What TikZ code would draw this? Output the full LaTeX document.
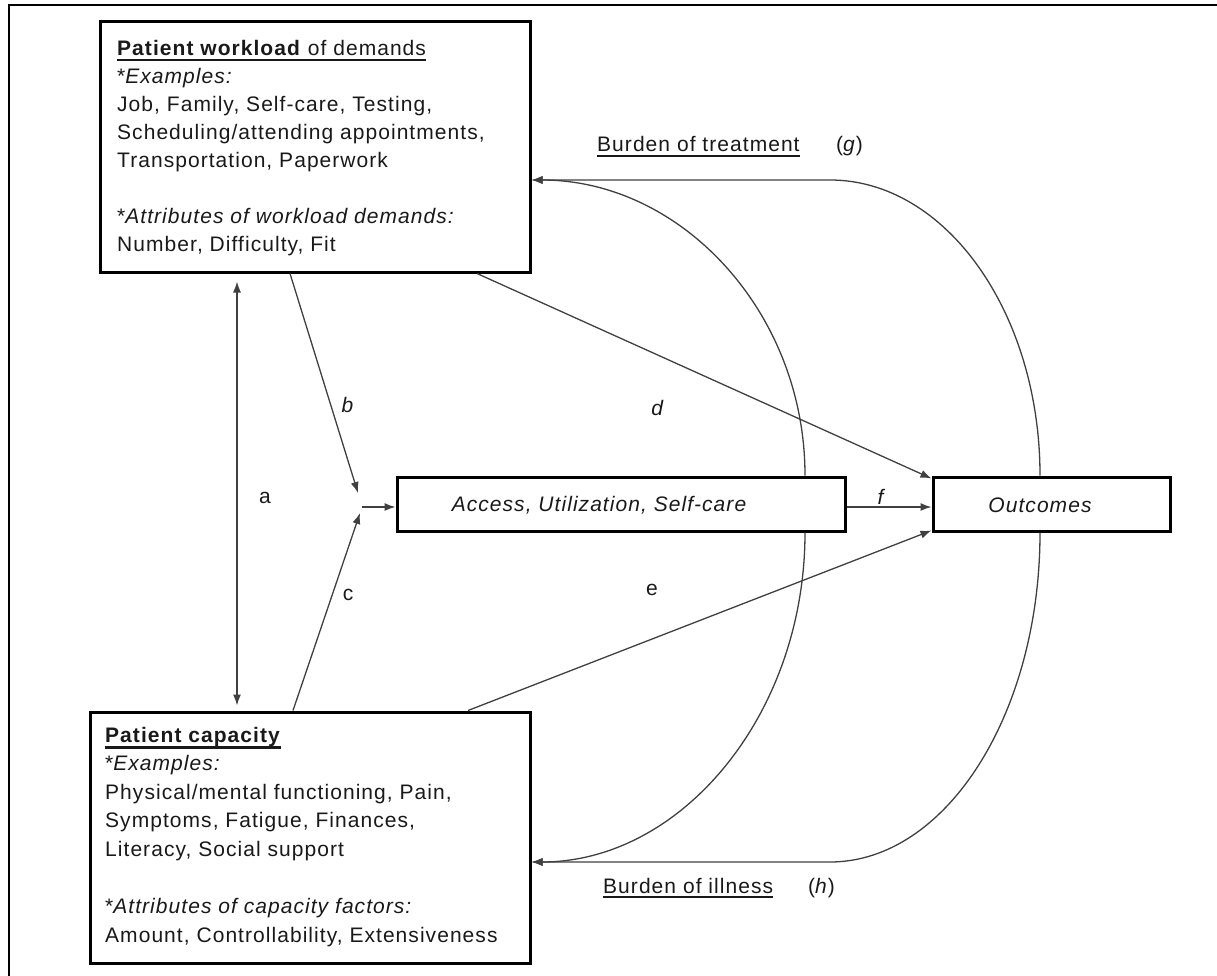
\documentclass[tikz,border=0pt]{standalone}
\usepackage{fontspec}
\setmainfont{Liberation Sans}[LetterSpace=5]
\usetikzlibrary{arrows.meta}
\newsavebox\ulbox
\newcommand{\thkul}[3]{\leavevmode\sbox\ulbox{#3}\rlap{\raisebox{-#1}{\rule{\wd\ulbox}{#2}}}\usebox\ulbox}
\tikzset{
  boxst/.style={draw=black, line width=3pt, inner sep=0pt},
  arr/.style={draw=black!75, line width=1.3pt, -{Latex[length=11pt,width=8pt]}},
  dblarr/.style={draw=black!75, line width=1.3pt, {Latex[length=11pt,width=8pt]}-{Latex[length=11pt,width=8pt]}},
  lbl/.style={inner sep=0pt, text=black!90, font=\fontsize{21}{28}\selectfont},
}
\begin{document}
\begin{tikzpicture}[x=1pt,y=-1pt]
\useasboundingbox (0,0) rectangle (1217,976);
% outer frame (top and left edges only)
\draw[line width=2pt] (9,976) -- (9,5) -- (1217,5);

% boxes
\node[boxst, minimum width=430, minimum height=250] (wl) at (315,147) {};
\node[boxst, minimum width=440, minimum height=251] (cap) at (310,837.5) {};
\node[boxst, minimum width=448, minimum height=54] (acc) at (621,504) {};
\node[boxst, minimum width=237, minimum height=54] (outc) at (1051.5,504) {};

% box texts
\node[lbl, anchor=base west] (wltxt) at (117,56) {\vtop{\baselineskip=28pt
  \hbox{\thkul{5.5pt}{2.6pt}{\textbf{Patient workload} of demands}}
  \hbox{*\textit{Examples:}}
  \hbox{Job, Family, Self-care, Testing,}
  \hbox{Scheduling/attending appointments,}
  \hbox{Transportation, Paperwork}
  \hbox{}
  \hbox{*\textit{Attributes of workload demands:}}
  \hbox{Number, Difficulty, Fit}}};
\node[lbl, anchor=base west] (captxt) at (105,742) {\vtop{\baselineskip=28.6pt
  \hbox{\thkul{7pt}{2.6pt}{\textbf{Patient capacity}}}
  \hbox{*\textit{Examples:}}
  \hbox{Physical/mental functioning, Pain,}
  \hbox{Symptoms, Fatigue, Finances,}
  \hbox{Literacy, Social support}
  \hbox{}
  \hbox{*\textit{Attributes of capacity factors:}}
  \hbox{Amount, Controllability, Extensiveness}}};
\node[lbl, font=\fontsize{21}{28}\selectfont\itshape] (acctxt) at (599,505) {Access, Utilization, Self-care};
\node[lbl, font=\fontsize{21}{28}\selectfont\itshape] (outtxt) at (1040,505) {Outcomes};

% junction
\coordinate (jb) at (358,493);
\coordinate (jc) at (360,513);
\coordinate (j) at (362,507);

% connectors
\draw[dblarr, shorten <=8pt, shorten >=5pt] ([xshift=-78pt]wl.south) -- ([xshift=-73pt]cap.north);
\draw[arr] ([xshift=-25pt]wl.south) -- (jb);
\draw[arr] ([xshift=-17pt]cap.north) -- (jc);
\draw[arr] (j) -- (acc.west |- j);
\draw[arr] ([xshift=162pt]wl.south) -- ([yshift=-3pt]outc.north west);
\draw[arr] ([xshift=158pt]cap.north) -- ([yshift=2pt]outc.south west);
\draw[arr] (acc.east |- j) -- (outc.west |- j);

% burden of treatment (g)
\draw[arr] ([xshift=-11.5pt]outc.north) .. controls (1040,313) and (946,180) .. (830,180) -- ([yshift=-33pt]wl.east);
\draw[arr] ([xshift=184pt]acc.north) .. controls (805,313) and (682,180) .. ([yshift=-33pt]wl.east);
% burden of illness (h)
\draw[arr] ([xshift=-11.5pt]outc.south) .. controls (1040,714) and (946,862) .. (830,862) -- ([yshift=-24.5pt]cap.east);
\draw[arr] ([xshift=184pt]acc.south) .. controls (805,714) and (682,862) .. ([yshift=-24.5pt]cap.east);

% labels
\node[lbl] (la) at (265,498) {a};
\node[lbl] (lb) at (348,405) {\textit{b}};
\node[lbl] (lc) at (348,595) {c};
\node[lbl] (ld) at (658,408) {\textit{d}};
\node[lbl] (le) at (652,590) {e};
\node[lbl] (lf) at (882,497) {\textit{f}};
\node[lbl, anchor=base west] (lg) at (597,152) {\thkul{5pt}{2pt}{Burden of treatment}};
\node[lbl, anchor=base west] (lgg) at (836,152) {(\textit{g})};
\node[lbl, anchor=base west] (lh) at (603,893) {\thkul{5pt}{2pt}{Burden of illness}};
\node[lbl, anchor=base west] (lhh) at (808,893) {(\textit{h})};
\end{tikzpicture}
\end{document}
